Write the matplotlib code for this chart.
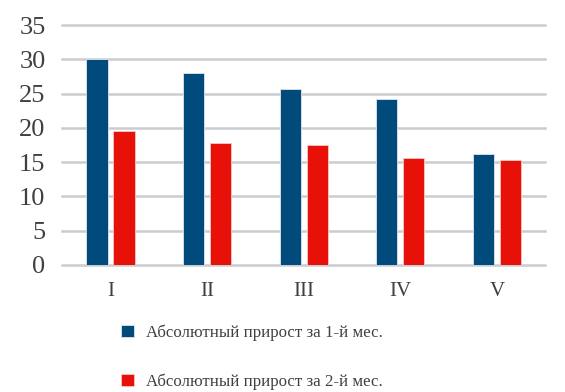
import numpy as np
import matplotlib.pyplot as plt

plt.rcParams['font.family'] = ['Liberation Serif', 'DejaVu Serif']

# Data
groups = ["I", "II", "III", "IV", "V"]
month1 = [30.0, 28.0, 25.7, 24.2, 16.2]
month2 = [19.5, 17.8, 17.5, 15.6, 15.3]
label1 = "Абсолютный прирост за 1-й мес."
label2 = "Абсолютный прирост за 2-й мес."

blue = "#004b7c"
red = "#e8110a"
grid_col = "#c9cdcf"
text_col = "#404040"

fig = plt.figure(figsize=(5.65, 3.92), dpi=100)
ax = fig.add_axes([0.11, 0.324, 0.855, 0.612])

x = np.arange(len(groups))
w = 0.22
off = 0.14
b1 = ax.bar(x - off, month1, w, color=blue, edgecolor="#dfe6ec", linewidth=0.6,
            label=label1, zorder=3)
b2 = ax.bar(x + off, month2, w, color=red, edgecolor="#f6c9c6", linewidth=0.6,
            label=label2, zorder=3)

ax.set_xlim(-0.5, len(groups) - 0.5)
ax.set_ylim(0, 35)
ax.set_yticks(range(0, 36, 5))
ax.set_xticks(x)
ax.set_xticklabels(groups)
ax.yaxis.grid(True, color=grid_col, linewidth=1.8, zorder=0)
for gl in ax.get_ygridlines():
    gl.set_clip_on(False)
for s in ax.spines.values():
    s.set_visible(False)
ax.tick_params(axis="both", length=0, colors=text_col)
ax.tick_params(axis="y", pad=12, labelsize=19)
ax.tick_params(axis="x", pad=12, labelsize=15)

fig.legend(handles=[b1, b2], loc="upper left", bbox_to_anchor=(0.215, 0.172),
           frameon=False, fontsize=12.2, handlelength=0.72, handleheight=0.72,
           handletextpad=0.75, labelspacing=1.9, borderaxespad=0, borderpad=0)
for t in fig.legends[0].get_texts():
    t.set_color(text_col)

fig.savefig("out.png", dpi=100)
